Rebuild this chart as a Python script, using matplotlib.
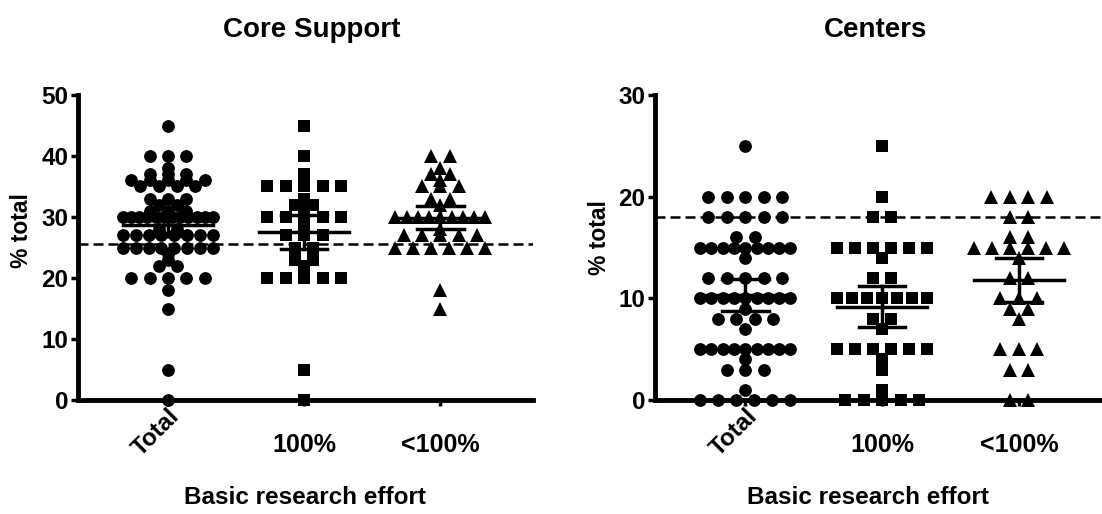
import numpy as np
import matplotlib
matplotlib.use('Agg')
import matplotlib.pyplot as plt

plt.rcParams['font.family'] = ['Liberation Sans', 'DejaVu Sans']
plt.rcParams['font.weight'] = 'bold'

# categories and marker shapes (Total / 100% / <100%)
groups = ['Total', '100%', '<100%']
markers = ['o', 's', '^']
marker_sizes = [9.2, 9, 10.5]

# Core Support values (% total)
core_total = [45, 40, 40, 40, 38, 37, 37, 37, 36, 36, 36, 36, 36, 35, 35, 35, 35,
              33, 33, 33, 32, 32, 31, 31, 31, 30, 30, 30, 30, 30, 30, 30, 30, 30, 30,
              30, 30, 28, 28, 27, 27, 27, 27, 27, 27, 27, 27, 25, 25, 25, 25, 25, 25,
              25, 25, 24, 23, 22, 22, 20, 20, 20, 20, 20, 18, 15, 5, 0]
core_100 = [45, 40, 37, 36, 35, 35, 35, 35, 35, 33, 32, 32, 31, 30, 30, 30, 30, 30,
            28, 27, 27, 27, 25, 25, 24, 24, 23, 23, 22, 20, 20, 20, 20, 20, 5, 0]
core_lt100 = [40, 40, 38, 37, 37, 36, 35, 35, 35, 33, 33, 32, 30, 30, 30, 30, 30, 30,
              30, 30, 30, 28, 27, 27, 27, 27, 27, 25, 25, 25, 25, 25, 25, 18, 15]
core_ref = 25.5

# Centers values (% total)
centers_total = [25, 20, 20, 20, 20, 20, 18, 18, 18, 18, 18, 16, 16, 15, 15, 15, 15,
                 15, 15, 15, 15, 15, 14, 12, 12, 12, 12, 12, 10, 10, 10, 10, 10, 10,
                 10, 10, 10, 9, 8, 8, 8, 8, 7, 5, 5, 5, 5, 5, 5, 5, 5, 5, 4, 3, 3, 3,
                 1, 0, 0, 0, 0, 0, 0]
centers_100 = [25, 20, 18, 18, 15, 15, 15, 15, 15, 15, 14, 12, 12, 10, 10, 10, 10, 10,
               10, 10, 8, 8, 7, 5, 5, 5, 5, 5, 5, 4, 3, 1, 0, 0, 0, 0, 0]
centers_lt100 = [20, 20, 20, 20, 18, 18, 16, 16, 15, 15, 15, 15, 15, 15, 14, 12, 12,
                 10, 10, 10, 9, 9, 8, 5, 5, 5, 3, 3, 0, 0]
centers_ref = 18


# spread points with the same value sideways (scatter dot plot)
def swarm_x(values, center, step=0.135, half=0.33):
    values = np.asarray(values, float)
    xs = np.zeros(len(values))
    for v in np.unique(values):
        idx = np.where(values == v)[0]
        n = len(idx)
        s = step if n < 2 else min(step, 2 * half / (n - 1))
        xs[idx] = center + (np.arange(n) - (n - 1) / 2) * s
    return xs


def panel(ax, data, ymax, ref):
    for i, vals in enumerate(data):
        vals = np.asarray(vals, float)
        ax.plot(swarm_x(vals, i), vals, markers[i], color='black',
                markersize=marker_sizes[i], markeredgewidth=0, clip_on=False, zorder=3)
        # mean with 95% CI
        m = vals.mean()
        ci = 1.96 * vals.std(ddof=1) / np.sqrt(len(vals))
        ax.plot([i - 0.33, i + 0.33], [m, m], color='black', lw=2.5, zorder=4)
        ax.plot([i, i], [m - ci, m + ci], color='black', lw=2.5, zorder=4)
        ax.plot([i - 0.17, i + 0.17], [m - ci, m - ci], color='black', lw=2.5, zorder=4)
        ax.plot([i - 0.17, i + 0.17], [m + ci, m + ci], color='black', lw=2.5, zorder=4)

    ax.axhline(ref, color='black', lw=1.8, ls=(0, (4, 2)), zorder=2)
    ax.set_xlim(-0.66, 2.68)
    ax.set_ylim(0, ymax)
    ax.set_yticks(np.arange(0, ymax + 1, 10))
    ax.spines['top'].set_visible(False)
    ax.spines['right'].set_visible(False)
    ax.spines['left'].set_linewidth(3.5)
    ax.spines['bottom'].set_linewidth(3.5)
    ax.tick_params(axis='y', length=5, width=2.5, labelsize=17.5, pad=2)
    ax.tick_params(axis='x', length=4, width=2.5, labelsize=18, pad=20)
    ax.set_xticks([0, 1, 2])
    ax.set_xticklabels(['', groups[1], groups[2]])
    # rotated label for the first category
    ax.text(0.0, -ymax * 0.015, groups[0], rotation=45, ha='right', va='top',
            fontsize=17.5, fontweight='bold', rotation_mode='anchor')


fig = plt.figure(figsize=(11.02, 5.14), dpi=100)
ax1 = fig.add_axes([78 / 1102, 1 - 400 / 514, 455 / 1102, 305 / 514])
ax2 = fig.add_axes([655 / 1102, 1 - 400 / 514, 457 / 1102, 305 / 514])

panel(ax1, [core_total, core_100, core_lt100], 50, core_ref)
panel(ax2, [centers_total, centers_100, centers_lt100], 30, centers_ref)

fig.text(312 / 1102, 1 - 30 / 514, 'Core Support', ha='center', va='center', fontsize=20)
fig.text(876 / 1102, 1 - 30 / 514, 'Centers', ha='center', va='center', fontsize=20)
fig.text(305 / 1102, 1 - 497 / 514, 'Basic research effort', ha='center', va='center', fontsize=17.5)
fig.text(868 / 1102, 1 - 497 / 514, 'Basic research effort', ha='center', va='center', fontsize=17.5)
fig.text(21 / 1102, 1 - 231 / 514, '% total', rotation=90, ha='center', va='center', fontsize=16.5)
fig.text(599 / 1102, 1 - 238 / 514, '% total', rotation=90, ha='center', va='center', fontsize=16.5)

fig.savefig('out.png', dpi=100)
